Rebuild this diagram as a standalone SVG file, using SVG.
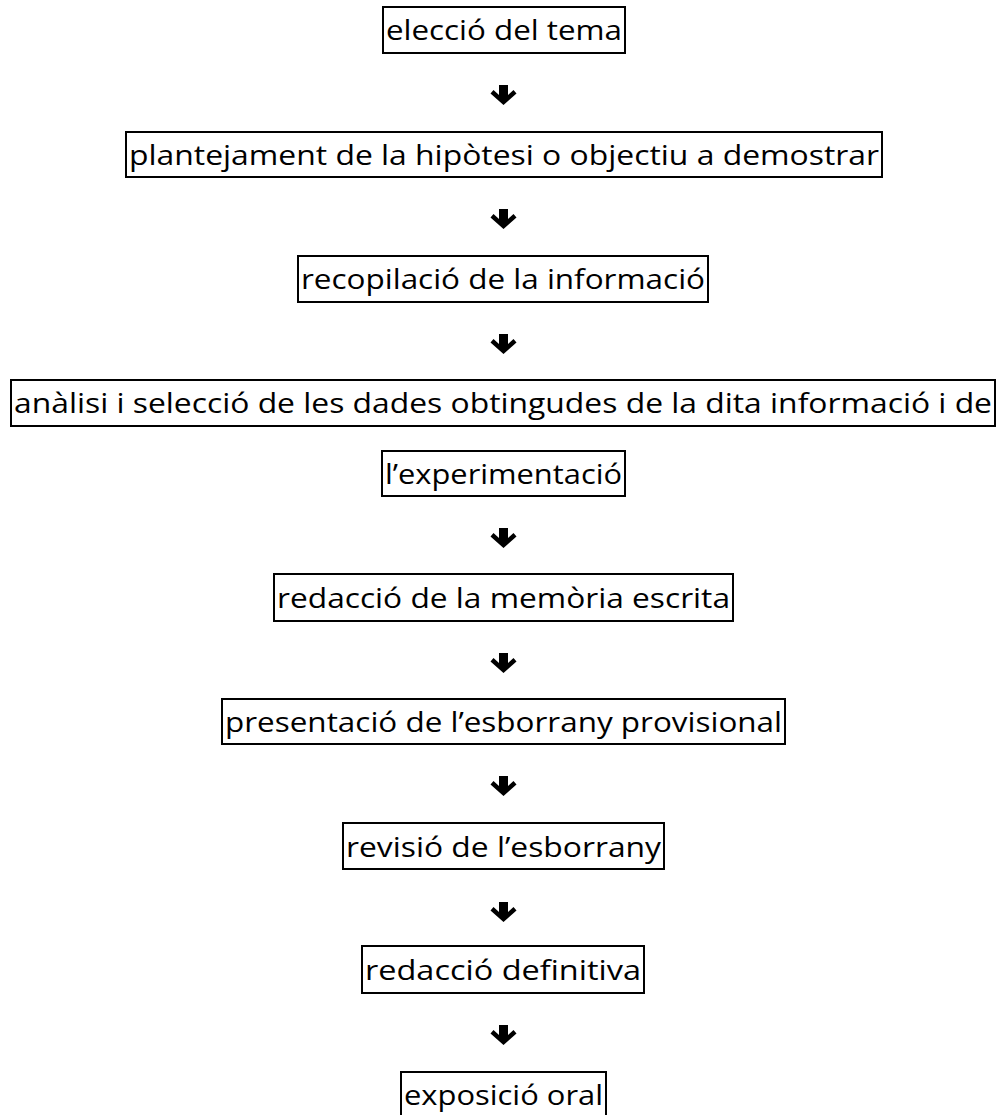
<svg xmlns="http://www.w3.org/2000/svg" xmlns:xlink="http://www.w3.org/1999/xlink" width="1002" height="1115" viewBox="0 0 1002 1115">
  <style>
    .box { fill: #ffffff; stroke: #000000; stroke-width: 2; }
    .lbl { font-family: "Comic Sans MS", "Open Sans", "Noto Sans", sans-serif; font-size: 27px; fill: #000000; text-anchor: middle; }
    .arr { fill: #000000; }
  </style>
  <defs>
    <polygon id="down" class="arr" points="-4.5,0 4.5,0 4.5,10 10,5 13,8.5 0,20 -13,8.5 -10,5 -4.5,10"/>
  </defs>
  <rect width="1002" height="1115" fill="#ffffff"/>

  <g id="connectors">
    <use xlink:href="#down" x="503.5" y="85"/>
    <use xlink:href="#down" x="503.5" y="209"/>
    <use xlink:href="#down" x="503.5" y="334"/>
    <use xlink:href="#down" x="503.5" y="528"/>
    <use xlink:href="#down" x="503.5" y="653"/>
    <use xlink:href="#down" x="503.5" y="776"/>
    <use xlink:href="#down" x="503.5" y="902"/>
    <use xlink:href="#down" x="503.5" y="1025"/>
  </g>

  <g id="n1">
    <rect class="box" x="383" y="7" width="242" height="46"/>
    <text class="lbl" x="504" y="40" textLength="236" lengthAdjust="spacingAndGlyphs">elecció del tema</text>
  </g>
  <g id="n2">
    <rect class="box" x="126" y="132" width="756" height="45"/>
    <text class="lbl" x="504" y="165" textLength="750" lengthAdjust="spacingAndGlyphs">plantejament de la hipòtesi o objectiu a demostrar</text>
  </g>
  <g id="n3">
    <rect class="box" x="298" y="256" width="410" height="46"/>
    <text class="lbl" x="503" y="289" textLength="404" lengthAdjust="spacingAndGlyphs">recopilació de la informació</text>
  </g>
  <g id="n4">
    <rect class="box" x="11" y="380" width="984" height="46"/>
    <text class="lbl" x="503" y="413" textLength="978" lengthAdjust="spacingAndGlyphs">anàlisi i selecció de les dades obtingudes de la dita informació i de</text>
    <rect class="box" x="382" y="451" width="243" height="45"/>
    <text class="lbl" x="503.5" y="484" textLength="237" lengthAdjust="spacingAndGlyphs">l’experimentació</text>
  </g>
  <g id="n5">
    <rect class="box" x="274" y="574" width="459" height="47"/>
    <text class="lbl" x="503.5" y="608" textLength="453" lengthAdjust="spacingAndGlyphs">redacció de la memòria escrita</text>
  </g>
  <g id="n6">
    <rect class="box" x="222" y="699" width="563" height="45"/>
    <text class="lbl" x="503.5" y="732" textLength="557" lengthAdjust="spacingAndGlyphs">presentació de l’esborrany provisional</text>
  </g>
  <g id="n7">
    <rect class="box" x="343" y="823" width="321" height="46"/>
    <text class="lbl" x="503.5" y="857" textLength="315" lengthAdjust="spacingAndGlyphs">revisió de l’esborrany</text>
  </g>
  <g id="n8">
    <rect class="box" x="362" y="946" width="282" height="47"/>
    <text class="lbl" x="503" y="980" textLength="276" lengthAdjust="spacingAndGlyphs">redacció definitiva</text>
  </g>
  <g id="n9">
    <rect class="box" x="401" y="1072" width="205" height="46"/>
    <text class="lbl" x="503.5" y="1105" textLength="199" lengthAdjust="spacingAndGlyphs">exposició oral</text>
  </g>
</svg>
